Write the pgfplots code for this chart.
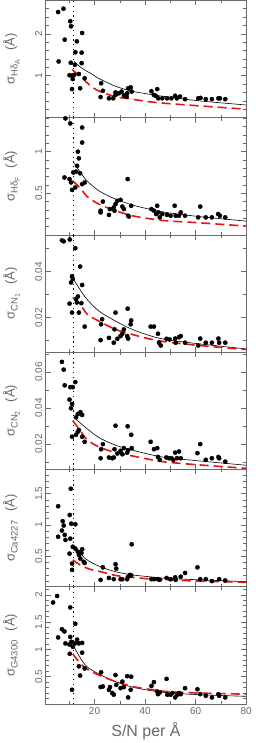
\documentclass[border=0pt]{standalone}
\usepackage{fontspec}
\setmainfont{Liberation Sans}
\usepackage{pgfplots}
\pgfplotsset{compat=1.18}
\usepgfplotslibrary{groupplots}
\definecolor{axgray}{RGB}{105,105,105}
\definecolor{dashred}{RGB}{228,20,20}
\newcommand{\sig}[2]{{\fontsize{13}{15}\selectfont σ\raisebox{-0.45ex}{\fontsize{9.5}{10}\selectfont #1\raisebox{-0.45ex}{\fontsize{7}{8}\selectfont #2}}\hspace{0.7em}(Å)}}
\pgfplotsset{
  dots/.style={only marks, mark=*, mark size=2.1bp, black},
  fitline/.style={black, line width=0.6bp, smooth, no marks},
  redline/.style={dashred, line width=1.6bp, smooth, no marks, dash pattern=on 9bp off 5bp},
  vline/.style={black, line width=1.2bp, dash pattern=on 1.2bp off 3.6bp, no marks},
}
\begin{document}
\begin{tikzpicture}
\begin{groupplot}[
  group style={group size=1 by 6, vertical sep=0pt, x descriptions at=edge bottom},
  width=200bp, height=117bp, scale only axis,
  xmin=0.7, xmax=80,
  xtick={20,40,60,80}, minor xtick={10,30,50,70},
  tick align=inside, xtick pos=both, ytick pos=both,
  scaled y ticks=false,
  axis line style={axgray, line width=0.6bp},
  every tick/.style={axgray, line width=0.6bp},
  major tick length=5bp, minor tick length=3bp,
  tick label style={font=\fontsize{10}{12}\selectfont, text=axgray, /pgf/number format/assume math mode=true},
  yticklabel style={rotate=90, anchor=south, /pgf/number format/fixed, /pgf/number format/precision=2},
  ylabel style={at={(axis description cs:-0.17,0.5)}, anchor=center, text=axgray},
  xlabel style={font=\fontsize{16}{18}\selectfont, text=axgray, yshift=-1bp},
  xlabel={S/N per Å},
]
% ---------------- Panel 1: Hdelta_A
\nextgroupplot[ymin=0, ymax=2.8, ytick={1,2},
  minor ytick={0.2,0.4,0.6,0.8,1.2,1.4,1.6,1.8,2.2,2.4,2.6},
  ylabel={\sig{Hδ}{A}}]
\addplot[vline] coordinates {(11.7,0) (11.7,2.8)};
\addplot[dots] coordinates {
(5.6,2.52) (7.7,2.60) (5.8,1.34) (8.2,1.86) (10.4,2.30) (10.7,2.18) (15.1,2.02) (13.0,1.82)
(12.4,1.56) (14.9,1.55) (10.6,1.31) (12.2,1.26) (14.9,1.30) (10.1,1.01) (11.1,1.00) (12.0,1.02)
(11.4,0.92) (13.8,1.04) (16.1,0.94) (11.1,0.68) (14.3,0.70) (22.6,0.82) (23.3,0.64) (22.4,0.49)
(25.7,0.46) (27.4,0.46) (28.3,0.54) (28.3,0.60) (29.6,0.58) (30.7,0.62) (31.6,0.53) (32.7,0.50)
(33.3,0.70) (34.3,0.72) (34.7,0.62) (32.9,0.58) (42.5,0.63) (43.5,0.54) (44.8,0.68) (45.2,0.46)
(44.2,0.52) (46.8,0.46) (48.7,0.46) (50.4,0.46) (51.9,0.52) (52.6,0.46) (53.8,0.50) (55.8,0.44)
(61.0,0.46) (61.9,0.47) (64.0,0.44) (66.4,0.44) (69.0,0.46) (69.6,0.46) (71.7,0.44)};
\addplot[fitline] coordinates {(11.9,1.34) (15,1.18) (18.9,1.04) (21.5,0.94) (28.2,0.75) (34.8,0.63) (41.4,0.56) (48.1,0.50) (61.4,0.40) (80,0.30)};
\addplot[redline] coordinates {(11.2,1.14) (14.9,0.96) (18,0.78) (21.5,0.64) (28.2,0.50) (34.8,0.44) (41.4,0.38) (48.1,0.34) (61.4,0.28) (80,0.20)};
% ---------------- Panel 2: Hdelta_F
\nextgroupplot[ymin=0, ymax=1.41, ytick={0.5,1},
  minor ytick={0.1,0.2,0.3,0.4,0.6,0.7,0.8,0.9,1.1,1.2,1.3,1.4},
  ylabel={\sig{Hδ}{F}}]
\addplot[vline] coordinates {(11.7,0) (11.7,1.41)};
\addplot[dots] coordinates {
(8.5,1.40) (10.4,1.34) (15.1,1.29) (15.1,1.11) (13.4,1.00) (13.8,0.92) (13.1,0.83) (11.6,0.75)
(12.7,0.76) (14.3,0.74) (8.1,0.69) (10.1,0.67) (10.7,0.63) (11.1,0.54) (12.4,0.57) (15.1,0.61)
(16.1,0.63) (33.1,0.67) (23.3,0.40) (22.4,0.27) (22.4,0.29) (25.7,0.24) (26.1,0.31) (27.6,0.33)
(27.9,0.29) (28.3,0.37) (29.0,0.41) (30.3,0.42) (31.0,0.34) (31.6,0.31) (33.3,0.23) (33.6,0.22)
(34.5,0.35) (42.5,0.31) (43.5,0.29) (44.8,0.35) (45.2,0.27) (44.4,0.25) (45.8,0.21) (46.8,0.25)
(48.7,0.24) (50.1,0.23) (51.7,0.35) (52.1,0.23) (53.4,0.23) (54.1,0.27) (55.8,0.23) (61.0,0.21)
(61.8,0.34) (64.0,0.21) (66.4,0.21) (68.9,0.25) (69.6,0.23) (71.7,0.21)};
\addplot[fitline] coordinates {(11.8,0.87) (16.4,0.67) (21.7,0.53) (28.3,0.43) (34.9,0.36) (41.5,0.31) (48.1,0.27) (61.4,0.22) (80,0.165)};
\addplot[redline] coordinates {(11.4,0.65) (14.4,0.56) (17.1,0.46) (21.7,0.37) (28.3,0.29) (34.9,0.23) (41.5,0.195) (48.1,0.17) (61.4,0.145) (80,0.105)};
% ---------------- Panel 3: CN1
\nextgroupplot[ymin=0.005, ymax=0.056, ytick={0.02,0.04},
  minor ytick={0.01,0.03,0.05},
  ylabel={\sig{CN}{1}}]
\addplot[vline] coordinates {(11.7,0.005) (11.7,0.056)};
\addplot[dots] coordinates {
(7.1,0.0536) (7.8,0.0532) (10.2,0.054) (12.4,0.0502) (14.3,0.0422) (11.1,0.038) (11.4,0.0368)
(10.7,0.0353) (15.1,0.0342) (13.4,0.0292) (12.7,0.028) (10.1,0.0261) (13.0,0.0266) (14.8,0.0263)
(11.1,0.0222) (13.8,0.0222) (16.1,0.0161) (23.0,0.0193) (22.6,0.0171) (22.4,0.0102) (25.7,0.0112)
(27.6,0.0091) (27.9,0.0149) (28.3,0.0222) (29.0,0.0108) (30.3,0.012) (31.0,0.013) (31.6,0.0149)
(32.9,0.012) (33.3,0.0109) (33.1,0.0239) (34.5,0.0188) (34.3,0.0171) (42.2,0.0161) (43.5,0.0161)
(45.1,0.013) (45.5,0.0091) (46.2,0.0079) (48.5,0.0108) (49.7,0.0105) (51.9,0.0109) (52.1,0.0091)
(53.4,0.0115) (54.1,0.012) (55.8,0.0091) (61.0,0.0079) (61.8,0.0109) (64.0,0.0091) (66.4,0.0091)
(69.0,0.0109) (69.3,0.0091) (71.7,0.0091)};
\addplot[fitline] coordinates {(11.8,0.0365) (16.4,0.0288) (21.7,0.0229) (28.3,0.0185) (34.9,0.0149) (41.5,0.0123) (48.1,0.0105) (61.4,0.0086) (80,0.0064)};
\addplot[redline] coordinates {(11.4,0.0288) (14.4,0.0258) (17.1,0.0215) (21.7,0.0185) (28.3,0.0149) (34.9,0.0127) (41.5,0.0108) (48.1,0.0095) (61.4,0.0079) (80,0.0061)};
% ---------------- Panel 4: CN2
\nextgroupplot[ymin=0.006, ymax=0.071, ytick={0.02,0.04,0.06},
  minor ytick={0.01,0.03,0.05,0.07},
  ylabel={\sig{CN}{2}}]
\addplot[vline] coordinates {(11.7,0.006) (11.7,0.071)};
\addplot[dots] coordinates {
(7.1,0.0656) (7.8,0.0613) (8.2,0.0526) (10.1,0.0447) (10.4,0.0516) (11.4,0.0516) (12.4,0.0544)
(11.1,0.0423) (10.7,0.0399) (12.7,0.0349) (13.4,0.0367) (14.4,0.0377) (15.1,0.0362) (11.1,0.0241)
(12.7,0.0252) (13.4,0.0269) (13.8,0.0278) (15.1,0.0241) (16.1,0.0213) (22.4,0.0122) (22.6,0.0172)
(23.3,0.02) (25.7,0.0126) (27.0,0.0122) (27.6,0.0126) (27.9,0.0172) (28.3,0.0302) (29.0,0.0148)
(30.3,0.0163) (31.0,0.0144) (31.6,0.0178) (32.9,0.0153) (33.1,0.0299) (33.3,0.0166) (34.5,0.0252)
(34.7,0.0178) (42.2,0.0213) (43.5,0.0172) (44.8,0.0178) (45.1,0.0129) (45.8,0.0113) (48.4,0.0126)
(49.5,0.0122) (50.4,0.0122) (51.2,0.0113) (51.9,0.0153) (52.6,0.0122) (53.4,0.0159) (54.1,0.0122)
(60.7,0.015) (61.8,0.02) (64.0,0.0113) (66.4,0.0122) (69.0,0.0129) (69.3,0.0122) (71.7,0.0103)};
\addplot[fitline] coordinates {(11.8,0.0349) (16.4,0.0293) (21.7,0.0237) (28.3,0.0194) (34.9,0.0167) (41.5,0.0144) (48.1,0.0126) (61.4,0.0107) (80,0.0083)};
\addplot[redline] coordinates {(11.4,0.033) (14.4,0.0274) (17.1,0.0224) (21.7,0.0185) (28.3,0.0153) (34.9,0.0135) (41.5,0.0116) (48.1,0.0101) (61.4,0.0085) (80,0.0066)};
% ---------------- Panel 5: Ca4227
\nextgroupplot[ymin=0.01, ymax=1.89, ytick={0.5,1,1.5},
  minor ytick={0.1,0.2,0.3,0.4,0.6,0.7,0.8,0.9,1.1,1.2,1.3,1.4,1.6,1.7,1.8},
  ylabel={\sig{Ca4227}{}}]
\addplot[vline] coordinates {(11.7,0.01) (11.7,1.89)};
\addplot[dots] coordinates {
(10.6,1.58) (5.6,1.30) (7.4,1.06) (7.8,0.99) (7.1,0.91) (5.6,0.81) (8.2,0.84) (8.5,0.76)
(10.2,1.16) (10.8,1.02) (12.4,1.01) (10.4,0.78) (11.4,0.65) (12.4,0.62) (13.4,0.57) (15.1,0.61)
(14.8,0.55) (13.8,0.52) (14.4,0.46) (10.1,0.54) (11.1,0.38) (11.1,0.28) (15.7,0.41) (16.1,0.39)
(34.7,0.69) (23.3,0.32) (22.4,0.12) (25.7,0.15) (27.6,0.13) (28.3,0.37) (28.6,0.30) (30.3,0.13)
(31.0,0.13) (32.9,0.13) (33.3,0.17) (34.0,0.20) (34.5,0.19) (42.5,0.13) (43.5,0.13) (45.1,0.13)
(45.8,0.12) (48.5,0.15) (50.1,0.13) (51.9,0.16) (52.1,0.12) (54.1,0.17) (55.8,0.23) (60.7,0.32)
(61.8,0.13) (64.0,0.13) (66.4,0.10) (69.3,0.13) (71.7,0.11)};
\addplot[fitline] coordinates {(11.8,0.675) (16.4,0.46) (21.7,0.34) (28.3,0.25) (34.9,0.20) (41.5,0.17) (48.1,0.145) (61.4,0.12) (80,0.09)};
\addplot[redline] coordinates {(11.4,0.44) (15.1,0.34) (19.0,0.28) (23.0,0.245) (28.3,0.19) (34.9,0.16) (41.5,0.135) (48.1,0.12) (61.4,0.10) (80,0.08)};
% ---------------- Panel 6: G4300
\nextgroupplot[ymin=0, ymax=2.15, ytick={0.5,1,1.5,2},
  minor ytick={0.1,0.2,0.3,0.4,0.6,0.7,0.8,0.9,1.1,1.2,1.3,1.4,1.6,1.7,1.8,1.9,2.1},
  ylabel={\sig{G4300}{}}]
\addplot[vline] coordinates {(11.7,0) (11.7,2.15)};
\addplot[dots] coordinates {
(5.2,1.98) (3.6,1.86) (5.6,1.22) (7.1,1.37) (8.1,1.33) (8.5,1.11) (10.4,1.77) (12.4,1.47)
(10.4,1.23) (10.8,1.14) (10.1,1.09) (10.2,0.92) (11.4,1.05) (12.2,1.11) (13.1,1.18) (13.8,1.11)
(15.1,1.12) (15.1,0.94) (13.8,0.69) (14.3,0.52) (16.1,0.65) (11.1,0.26) (22.6,0.58) (22.4,0.31)
(23.3,0.32) (25.7,0.26) (26.1,0.31) (27.0,0.20) (27.6,0.17) (28.3,0.53) (28.6,0.35) (30.3,0.29)
(31.0,0.41) (31.6,0.31) (32.9,0.51) (33.3,0.12) (34.3,0.26) (34.5,0.50) (42.5,0.33) (43.5,0.40)
(44.8,0.23) (45.1,0.18) (45.8,0.21) (48.5,0.46) (48.8,0.17) (50.1,0.17) (50.8,0.20) (51.9,0.12)
(52.8,0.17) (53.4,0.20) (54.1,0.18) (55.8,0.29) (60.7,0.27) (61.8,0.18) (64.0,0.15) (66.4,0.12)
(69.0,0.18) (69.3,0.15) (71.7,0.12)};
\addplot[fitline] coordinates {(11.8,1.05) (16.4,0.71) (21.7,0.55) (28.3,0.41) (34.9,0.31) (41.5,0.25) (48.1,0.21) (61.4,0.17) (80,0.14)};
\addplot[redline] coordinates {(11.4,0.92) (14.4,0.74) (17.7,0.62) (21.7,0.53) (28.3,0.41) (34.9,0.32) (41.5,0.27) (48.1,0.23) (61.4,0.20) (80,0.18)};
\end{groupplot}
\end{tikzpicture}
\end{document}
